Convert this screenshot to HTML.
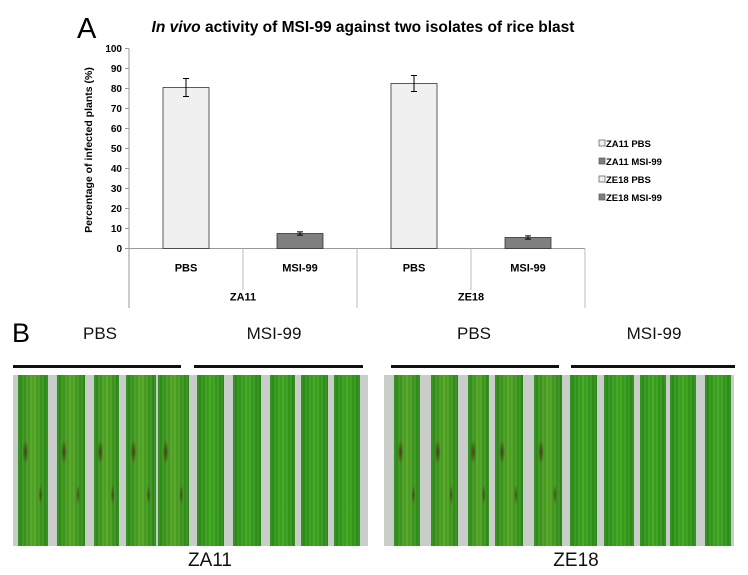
<!DOCTYPE html>
<html><head><meta charset="utf-8"><style>
body{margin:0;width:748px;height:575px;background:#fff;overflow:hidden;font-family:"Liberation Sans",sans-serif;position:relative}
.abs{position:absolute}
.panel{position:absolute;background:#c9cdca;top:375px;height:171px}
.leaf{position:absolute;top:0;height:171px}
.lbl{position:absolute;font-size:17px;color:#111;transform:translateX(-50%)}
.bar{position:absolute;top:365px;height:3px;background:#111}
</style></head><body>
<svg class="abs" style="left:0;top:0" width="748" height="315" id="chart">
<text x="77" y="38" font-size="29" font-family="Liberation Sans">A</text>
<text x="363" y="32" font-size="15.5" font-weight="bold" text-anchor="middle" font-family="Liberation Sans"><tspan font-style="italic">In vivo</tspan> activity of MSI-99 against two isolates of rice blast</text>
<text transform="translate(92,150) rotate(-90)" font-size="10.5" font-weight="bold" text-anchor="middle" font-family="Liberation Sans">Percentage of infected plants (%)</text>
<g id="g"></g>
</svg>
<script>
const ticks=[0,10,20,30,40,50,60,70,80,90,100];
const cats=["PBS","MSI-99","PBS","MSI-99"];
const groups=["ZA11","ZE18"];
const values=[80.5,7.5,82.5,5.5];
const errors=[4.5,0.8,4,0.8];
const legendLabels=["ZA11 PBS","ZA11 MSI-99","ZE18 PBS","ZE18 MSI-99"];
const colors=["#f0f0f0","#7f7f7f","#f0f0f0","#7f7f7f"];
const NS="http://www.w3.org/2000/svg",g=document.getElementById('g');
const x0=129,x1=585,y0=248.5,ppu=2.0;
const y=v=>y0-v*ppu;const slot=(x1-x0)/cats.length;
function mk(t,a,txt){const e=document.createElementNS(NS,t);for(const k in a)e.setAttribute(k,a[k]);if(txt!=null)e.textContent=txt;g.appendChild(e);return e;}
let e=mk('line',{x1:x0,y1:y(100),x2:x0,y2:308,stroke:'#999'});


e=mk('line',{x1:x0,y1:y0,x2:x1,y2:y0,stroke:'#999'});


ticks.forEach(t=>{mk('line',{x1:x0-4,y1:y(t),x2:x0,y2:y(t),stroke:'#999'});
 e=mk('text',{x:x0-7,y:y(t)+3.5,'font-size':10,'font-weight':'bold','text-anchor':'end','font-family':'Liberation Sans'},t);
 
 });
for(let i=1;i<cats.length;i++){const xx=x0+i*slot;mk('line',{x1:xx,y1:y0,x2:xx,y2:i==2?308:290,stroke:'#bbb'});}
mk('line',{x1:x1,y1:y0,x2:x1,y2:308,stroke:'#bbb'});
cats.forEach((c,i)=>{const cx=x0+slot*(i+.5),w=46;
 e=mk('rect',{x:cx-w/2,y:y(values[i]),width:w,height:values[i]*ppu,fill:colors[i],stroke:'#333','stroke-width':0.8});
 
 
 const t=y(values[i]+errors[i]),b=y(values[i]-errors[i]);
 e=mk('path',{d:`M${cx} ${t}V${b}M${cx-3} ${t}H${cx+3}M${cx-3} ${b}H${cx+3}`,stroke:'#000','stroke-width':1,fill:'none'});
 
 
 e=mk('text',{x:cx,y:y0+23,'font-size':11,'font-weight':'bold','text-anchor':'middle','font-family':'Liberation Sans'},c);
 
 });
groups.forEach((gr,i)=>{e=mk('text',{x:x0+slot*(2*i+1),y:y0+52,'font-size':11,'font-weight':'bold','text-anchor':'middle','font-family':'Liberation Sans'},gr);
 
 });
legendLabels.forEach((l,i)=>{const ly=147+i*18;
 e=mk('rect',{x:599,y:ly-7,width:6,height:6,fill:colors[i],stroke:'#555','stroke-width':0.7});
 
 
 e=mk('text',{x:606,y:ly,'font-size':9.5,'font-weight':'bold','font-family':'Liberation Sans'},l);
 
 });
</script>

<div class="abs" style="left:12px;top:318px;font-size:27px">B</div>
<div class="lbl" style="left:100px;top:324px">PBS</div>
<div class="lbl" style="left:274px;top:324px">MSI-99</div>
<div class="lbl" style="left:474px;top:324px">PBS</div>
<div class="lbl" style="left:654px;top:324px">MSI-99</div>
<div class="bar" style="left:13px;width:168px"></div>
<div class="bar" style="left:194px;width:169px"></div>
<div class="bar" style="left:391px;width:168px"></div>
<div class="bar" style="left:571px;width:164px"></div>
<div class="panel" style="left:13px;width:355px" id="p1"></div>
<div class="panel" style="left:384px;width:350px" id="p2"></div>
<div class="lbl" style="left:210px;top:550px;font-size:19px">ZA11</div>
<div class="lbl" style="left:576px;top:550px;font-size:19px">ZE18</div>
<script>
function leaves(id,off,arr){const p=document.getElementById(id);
 arr.forEach((r,i)=>{const d=document.createElement('div');d.className='leaf';
  d.style.left=(r[0]-off)+'px';d.style.width=(r[1]-r[0])+'px';
  const sick=i<5;
  let bg='repeating-linear-gradient(90deg,rgba(255,255,255,0.05) 0 2px,rgba(0,0,0,0.04) 2px 4px),linear-gradient(90deg,#2a8a18,'+(sick?'#55a825':'#3fa81f')+' 50%,#2a8a18)';
  if(sick){bg='radial-gradient(ellipse 3px 12px at 25% 45%,rgba(70,40,20,.8),transparent),radial-gradient(ellipse 2px 10px at 75% 70%,rgba(70,40,20,.7),transparent),'+bg;}
  d.style.background=bg;
  
  
  p.appendChild(d);});}
leaves('p1',13,[[18,48],[57,85],[94,119],[126,156],[158,189],[197,224],[233,261],[270,295],[301,328],[334,360]]);
leaves('p2',384,[[394,420],[431,458],[468,489],[495,523],[534,562],[570,597],[604,634],[640,666],[670,696],[705,731]]);
</script>
</body></html>
